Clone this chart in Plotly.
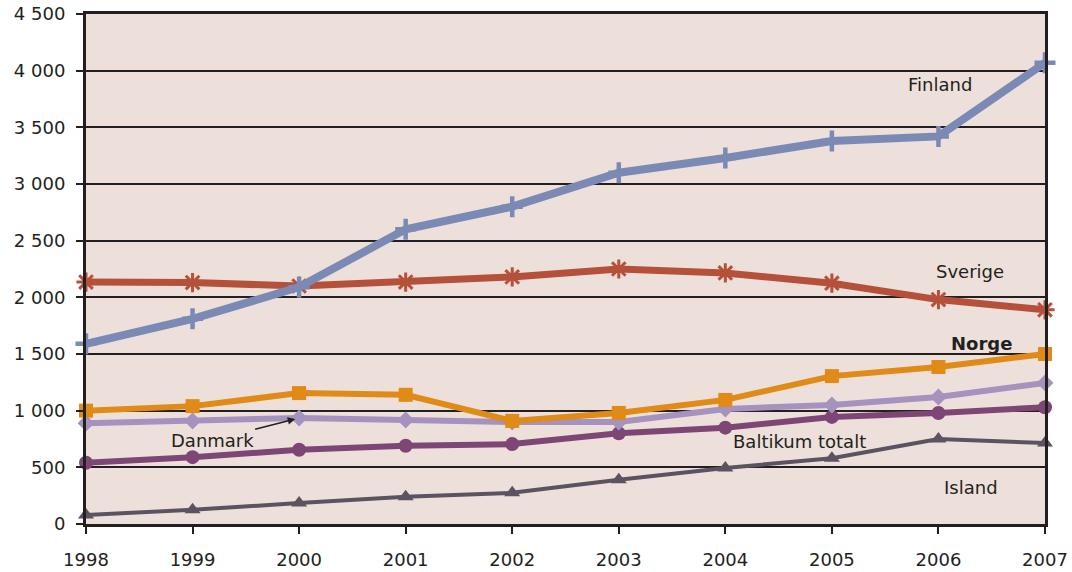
import plotly.graph_objects as go

years = [1998, 1999, 2000, 2001, 2002, 2003, 2004, 2005, 2006, 2007]
finland = [1590, 1810, 2090, 2600, 2800, 3100, 3230, 3380, 3420, 4070]
sverige = [2135, 2130, 2100, 2135, 2180, 2250, 2215, 2125, 1980, 1890]
norge = [1000, 1040, 1155, 1140, 910, 980, 1095, 1305, 1385, 1500]
danmark = [890, 909, 935, 918, 900, 900, 1015, 1050, 1120, 1245]
baltikum = [540, 590, 655, 690, 705, 800, 850, 945, 980, 1030]
island = [80, 125, 185, 240, 275, 390, 495, 580, 750, 715]

y_ticks = [0, 500, 1000, 1500, 2000, 2500, 3000, 3500, 4000, 4500]
y_ticktext = ["0", "500", "1 000", "1 500", "2 000", "2 500", "3 000", "3 500", "4 000", "4 500"]

series = [
    ("Island", island, "#5b5361", 4, "triangle-up", 14, None),
    ("Baltikum totalt", baltikum, "#7d4675", 6, "circle", 14, None),
    ("Danmark", danmark, "#a592bf", 6, "diamond", 13, None),
    ("Norge", norge, "#e08a17", 6, "square", 14, None),
    ("Sverige", sverige, "#b5513a", 7, "asterisk-open", 16, 3),
    ("Finland", finland, "#7b8ab5", 8, "cross-thin-open", 15, 4.5),
]

fig = go.Figure()
for name, vals, col, lw, sym, ms, mlw in series:
    marker = dict(symbol=sym, size=ms, color=col)
    if mlw:
        marker["line"] = dict(color=col, width=mlw)
    fig.add_trace(go.Scatter(x=years, y=vals, mode="lines+markers", name=name,
                             line=dict(color=col, width=lw), marker=marker,
                             cliponaxis=False))

font = dict(family="DejaVu Sans, Verdana", size=18, color="#231f20")
anns = [
    dict(x=2006.01, y=3880, text="Finland"),
    dict(x=2006.3, y=2224, text="Sverige"),
    dict(x=2006.4, y=1597, text="<b>Norge</b>"),
    dict(x=2004.7, y=732, text="Baltikum totalt"),
    dict(x=2006.31, y=326, text="Island"),
]
for a in anns:
    fig.add_annotation(x=a["x"], y=a["y"], text=a["text"], showarrow=False, font=font)
fig.add_annotation(x=2000, y=935, text="Danmark", showarrow=True, arrowhead=2,
                   arrowsize=1, arrowwidth=1.5, arrowcolor="#231f20",
                   ax=-87, ay=22, standoff=4, font=font)

fig.update_layout(
    width=1072, height=572,
    margin=dict(l=86, r=27, t=14, b=48, autoexpand=False),
    paper_bgcolor="white", plot_bgcolor="#ede0da",
    showlegend=False,
    font=font,
    xaxis=dict(range=[1998, 2007], tickvals=years, ticks="outside", ticklen=7,
               tickwidth=2, tickcolor="#231f20", showgrid=False, showline=True,
               linecolor="#231f20", linewidth=3, mirror=True, zeroline=False,
               tickfont=font, automargin=False, ticklabelstandoff=10,
               ticklabeloverflow="allow"),
    yaxis=dict(range=[0, 4500], tickvals=y_ticks, ticks="outside", ticklen=7,
               ticktext=y_ticktext, tickwidth=2, tickcolor="#231f20",
               showgrid=True, gridcolor="#231f20", gridwidth=1.5,
               showline=True, linecolor="#231f20", linewidth=3, mirror=True,
               zeroline=False, tickfont=font, automargin=False,
               ticklabelstandoff=7, ticklabeloverflow="allow"),
)
fig.write_html("out.html", config={"displayModeBar": False},
               post_script="document.body.style.margin='0';document.body.style.overflow='hidden';")
